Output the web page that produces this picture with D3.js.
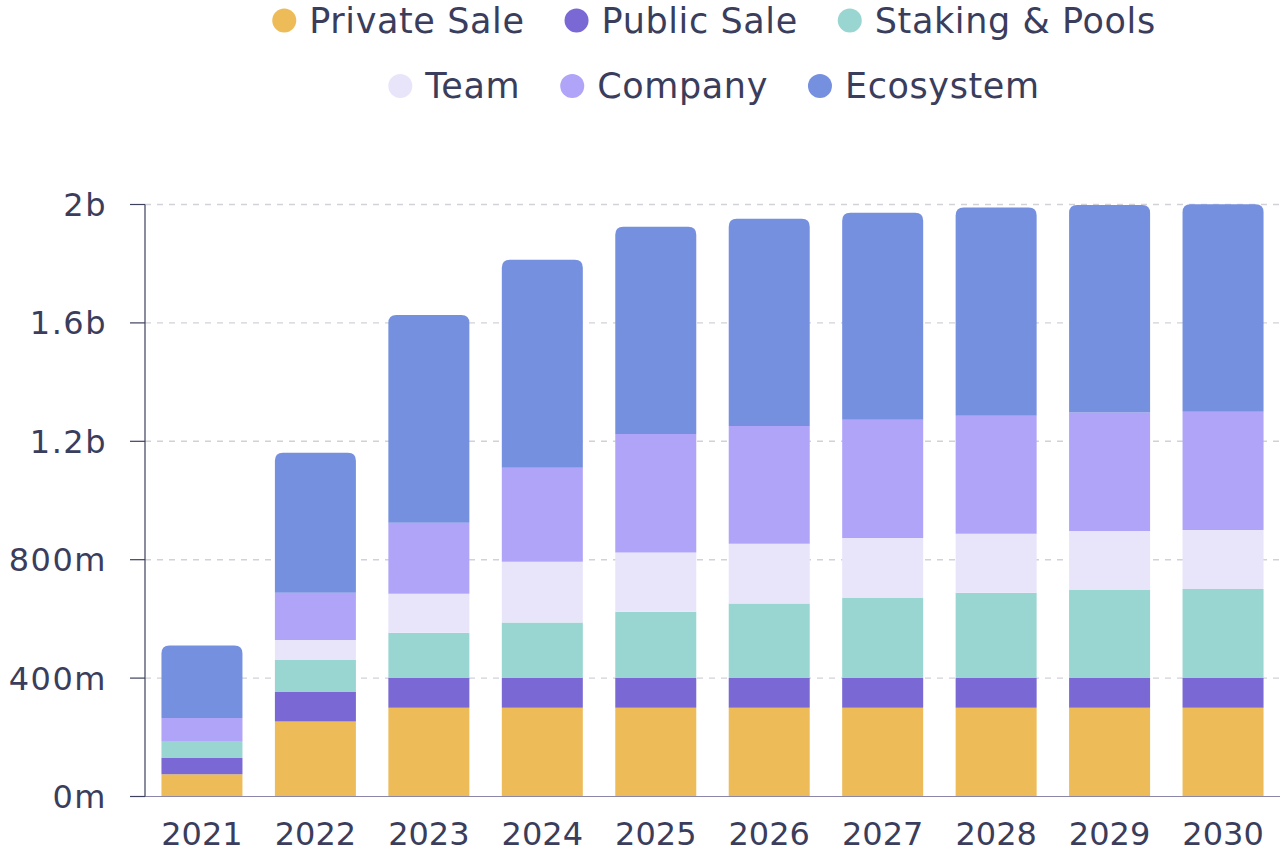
<!DOCTYPE html>
<html>
<head>
<meta charset="utf-8">
<script src="https://cdn.jsdelivr.net/npm/d3@7"></script>
<style>
  html, body { margin: 0; padding: 0; background: #ffffff; }
  svg { display: block; }
  text { font-family: "DejaVu Sans", sans-serif; fill: #3a3d5c; }
</style>
</head>
<body>
<svg id="chart" width="1280" height="853"></svg>
<script>
// ---- data ----
const years = ["2021","2022","2023","2024","2025","2026","2027","2028","2029","2030"];
const seriesNames = ["Private Sale","Public Sale","Staking & Pools","Team","Company","Ecosystem"];
const seriesColors = ["#EDBC59","#7A68D4","#99D6D2","#E8E5FB","#AFA4F8","#7690E0"];
const privateSale = [75, 253, 300, 300, 300, 300, 300, 300, 300, 300];
const publicSale  = [55, 100, 100, 100, 100, 100, 100, 100, 100, 100];
const stakingPools= [55, 108, 153, 188, 224, 252, 271, 288, 298, 301];
const team        = [0, 68, 132, 205, 200, 202, 202, 200, 199, 199];
const company     = [80, 159, 240, 318, 401, 398, 400, 398, 400, 400];
const ecosystem   = [245, 473, 702, 702, 700, 700, 699, 704, 701, 701];
const yTicks = [0, 400, 800, 1200, 1600, 2000];
const yTickLabels = ["0m","400m","800m","1.2b","1.6b","2b"];

const seriesValues = [privateSale, publicSale, stakingPools, team, company, ecosystem];
const table = years.map((yr, i) => {
  const row = { year: yr };
  seriesNames.forEach((s, k) => row[s] = seriesValues[k][i]);
  return row;
});

const svg = d3.select("#chart");
const pLeft = 145, pRight = 1280, pTop = 204.5, pBottom = 796.5;

const x = d3.scaleBand().domain(years).range([pLeft, pRight]).paddingInner(0.286).paddingOuter(0.145);
const y = d3.scaleLinear().domain([0, 2000]).range([pBottom, pTop]);

// grid lines
svg.append("g").selectAll("line").data(yTicks.filter(d => d > 0)).join("line")
  .attr("x1", pLeft).attr("x2", pRight)
  .attr("y1", d => y(d)).attr("y2", d => y(d))
  .attr("stroke", "#d2d1d9").attr("stroke-width", 1.4).attr("stroke-dasharray", "6,6");

// stacks
const stacked = d3.stack().keys(seriesNames)(table);
const rad = 8;
function segPath(x0, w, y0, y1, rounded) {
  const h = y0 - y1;
  if (!rounded) return `M${x0},${y0}V${y1}H${x0 + w}V${y0}Z`;
  const rr = Math.min(rad, h, w / 2);
  return `M${x0},${y0}V${y1 + rr}Q${x0},${y1} ${x0 + rr},${y1}H${x0 + w - rr}Q${x0 + w},${y1} ${x0 + w},${y1 + rr}V${y0}Z`;
}
const gBars = svg.append("g");
stacked.forEach((layer, k) => {
  gBars.append("g").selectAll("path").data(layer).join("path")
    .attr("fill", seriesColors[k])
    .attr("d", d => {
      if (d[1] - d[0] <= 0) return "";
      const isTop = k === stacked.length - 1;
      return segPath(x(d.data.year), x.bandwidth(), y(d[0]), y(d[1]), isTop);
    });
});

// axes
svg.append("line").attr("x1", 130).attr("x2", pRight).attr("y1", pBottom).attr("y2", pBottom)
  .attr("stroke", "#8b87a8").attr("stroke-width", 1.2);
svg.append("line").attr("x1", pLeft).attr("x2", pLeft).attr("y1", pTop).attr("y2", pBottom)
  .attr("stroke", "#3d405e").attr("stroke-width", 1.2);
const yAx = svg.append("g");
yAx.selectAll("line").data(yTicks).join("line")
  .attr("x1", 130).attr("x2", pLeft).attr("y1", d => y(d)).attr("y2", d => y(d))
  .attr("stroke", "#3d405e").attr("stroke-width", 1.2);
yAx.selectAll("text").data(yTicks).join("text")
  .attr("x", 107).attr("y", d => y(d)).attr("dy", "0.36em")
  .attr("text-anchor", "end").attr("font-size", 32).attr("letter-spacing", 1.5)
  .text((d, i) => yTickLabels[i]);

svg.append("g").selectAll("text").data(years).join("text")
  .attr("x", d => x(d) + x.bandwidth() / 2).attr("y", 845)
  .attr("text-anchor", "middle").attr("font-size", 32)
  .text(d => d);

// legend
const rows = [[0, 1, 2], [3, 4, 5]];
const rowY = [20.5, 86];
const legendCenter = 714;
const gap = 40;
rows.forEach((idxs, ri) => {
  const g = svg.append("g");
  let cx = 0;
  idxs.forEach(k => {
    const it = g.append("g");
    it.append("circle").attr("cx", 12).attr("cy", 0).attr("r", 12).attr("fill", seriesColors[k]);
    const t = it.append("text").attr("x", 37).attr("y", 12)
      .attr("font-size", 35).attr("letter-spacing", 0.6).text(seriesNames[k]);
    const w = 37 + t.node().getComputedTextLength();
    it.attr("transform", `translate(${cx},${rowY[ri]})`);
    cx += w + gap;
  });
  const total = cx - gap;
  g.attr("transform", `translate(${legendCenter - total / 2},0)`);
});
</script>
</body>
</html>
